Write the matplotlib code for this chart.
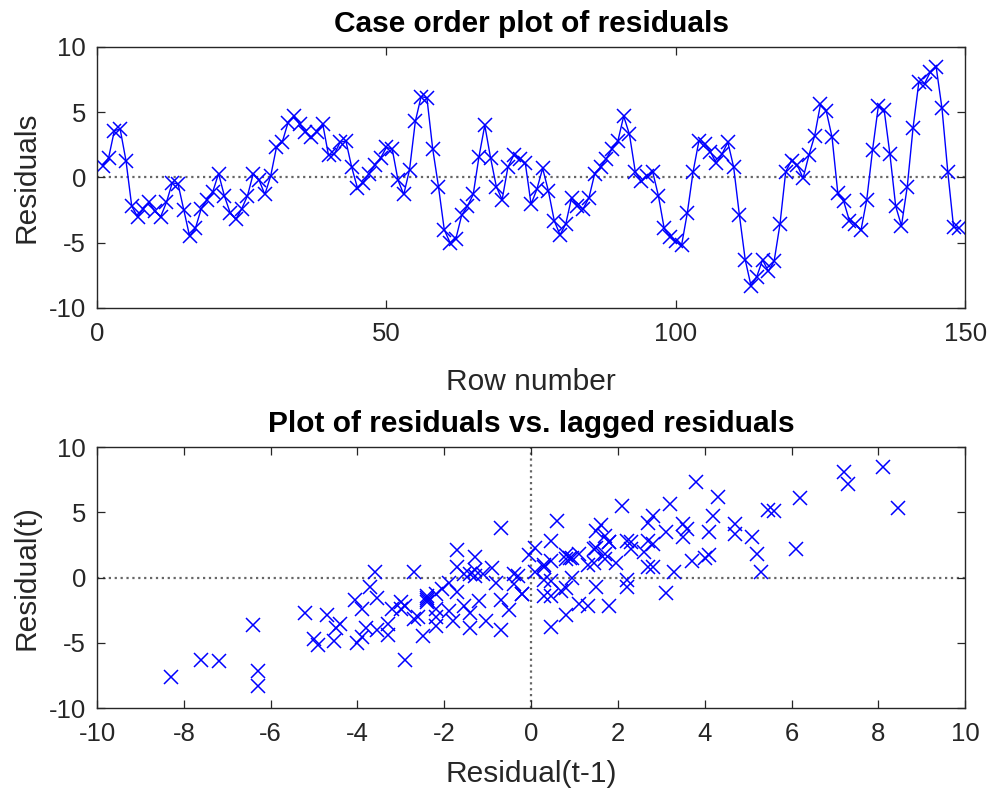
import numpy as np
import matplotlib
matplotlib.use("Agg")
import matplotlib.pyplot as plt

plt.rcParams['font.family'] = ['Liberation Sans', 'DejaVu Sans']
plt.rcParams['axes.unicode_minus'] = False

# residuals (rows 1..149)
residuals = [
    0.9, 1.5, 3.6, 3.7, 1.3, -2.2, -3.0, -2.4, -1.9, -2.6,
    -3.0, -1.9, -0.4, -0.5, -2.5, -4.5, -3.9, -2.4, -1.7, -1.1,
    0.3, -1.4, -2.7, -3.2, -2.4, -1.4, 0.3, -0.2, -1.3, 0.1,
    2.3, 2.7, 4.2, 4.7, 4.1, 3.5, 3.1, 3.5, 4.1, 1.7,
    1.8, 2.7, 2.8, 0.8, -0.8, -0.4, 0.3, 0.95, 1.5, 2.3,
    2.2, -0.2, -1.3, 0.6, 4.3, 6.2, 6.1, 2.2, -0.7, -4.0,
    -5.0, -4.7, -2.9, -2.2, -1.3, 1.6, 4.0, 1.5, -0.7, -1.7,
    0.8, 1.7, 1.45, 1.1, -2.05, -0.9, 0.7, -1.05, -3.3, -4.4,
    -3.55, -1.55, -2.2, -2.4, -1.55, 0.3, 0.8, 1.45, 2.2, 2.8,
    4.7, 3.3, 0.45, -0.3, 0.1, 0.45, -1.4, -3.9, -4.55, -4.9,
    -5.2, -2.7, 0.45, 2.8, 2.6, 1.95, 1.1, 1.8, 2.7, 0.8,
    -2.9, -6.3, -8.3, -7.6, -6.3, -7.2, -6.4, -3.6, 0.45, 1.3,
    0.95, -0.05, 1.7, 3.2, 5.6, 5.1, 3.1, -1.2, -1.8, -3.3,
    -3.55, -4.05, -1.7, 2.1, 5.45, 5.2, 1.8, -2.2, -3.7, -0.7,
    3.8, 7.3, 7.2, 8.1, 8.45, 5.3, 0.45, -3.8, -3.9,
]
rows = np.arange(1, len(residuals) + 1)

top_xticks = [0, 50, 100, 150]
top_yticks = [-10, -5, 0, 5, 10]
lag_xticks = list(range(-10, 11, 2))
lag_yticks = [-10, -5, 0, 5, 10]

axis_color = '#262626'


def style_axes(ax):
    for side in ax.spines.values():
        side.set_color(axis_color)
        side.set_linewidth(1.0)
    ax.tick_params(direction='in', length=6, width=0.9, colors=axis_color,
                   labelsize=18.5, top=True, right=True)
    ax.tick_params(axis='x', pad=10)
    ax.tick_params(axis='y', pad=8)


fig = plt.figure(figsize=(9.91, 7.95), dpi=100)

# case order plot
ax1 = fig.add_axes([0.0979, 0.6126, 0.876, 0.3283])
r = np.array(residuals)
ax1.plot(rows, r, color='b', lw=1.0, marker='x', ms=10.5, mew=1.1)
ax1.axhline(0, color='0.4', ls=':', lw=1.6, zorder=0)
ax1.set_xlim(0, 150)
ax1.set_ylim(-10, 10)
ax1.set_xticks(top_xticks)
ax1.set_yticks(top_yticks)
ax1.set_xlabel('Row number', fontsize=21.5, color=axis_color, labelpad=16)
ax1.set_ylabel('Residuals', fontsize=21.5, color=axis_color, labelpad=6)
ax1.set_title('Case order plot of residuals', fontsize=21.5, fontweight='bold', pad=11)
style_axes(ax1)

# lagged residuals
ax2 = fig.add_axes([0.0979, 0.1094, 0.876, 0.3283])
ax2.plot(r[:-1], r[1:], ls='none', color='b', marker='x', ms=10.5, mew=1.1)
ax2.axhline(0, color='0.4', ls=':', lw=1.6, zorder=0)
ax2.axvline(0, color='0.4', ls=':', lw=1.6, zorder=0)
ax2.set_xlim(-10, 10)
ax2.set_ylim(-10, 10)
ax2.set_xticks(lag_xticks)
ax2.set_yticks(lag_yticks)
ax2.set_xlabel('Residual(t-1)', fontsize=21.5, color=axis_color, labelpad=10)
ax2.set_ylabel('Residual(t)', fontsize=21.5, color=axis_color, labelpad=6)
ax2.set_title('Plot of residuals vs. lagged residuals', fontsize=21.5, fontweight='bold', pad=11)
style_axes(ax2)

fig.savefig('out.png', dpi=100)
